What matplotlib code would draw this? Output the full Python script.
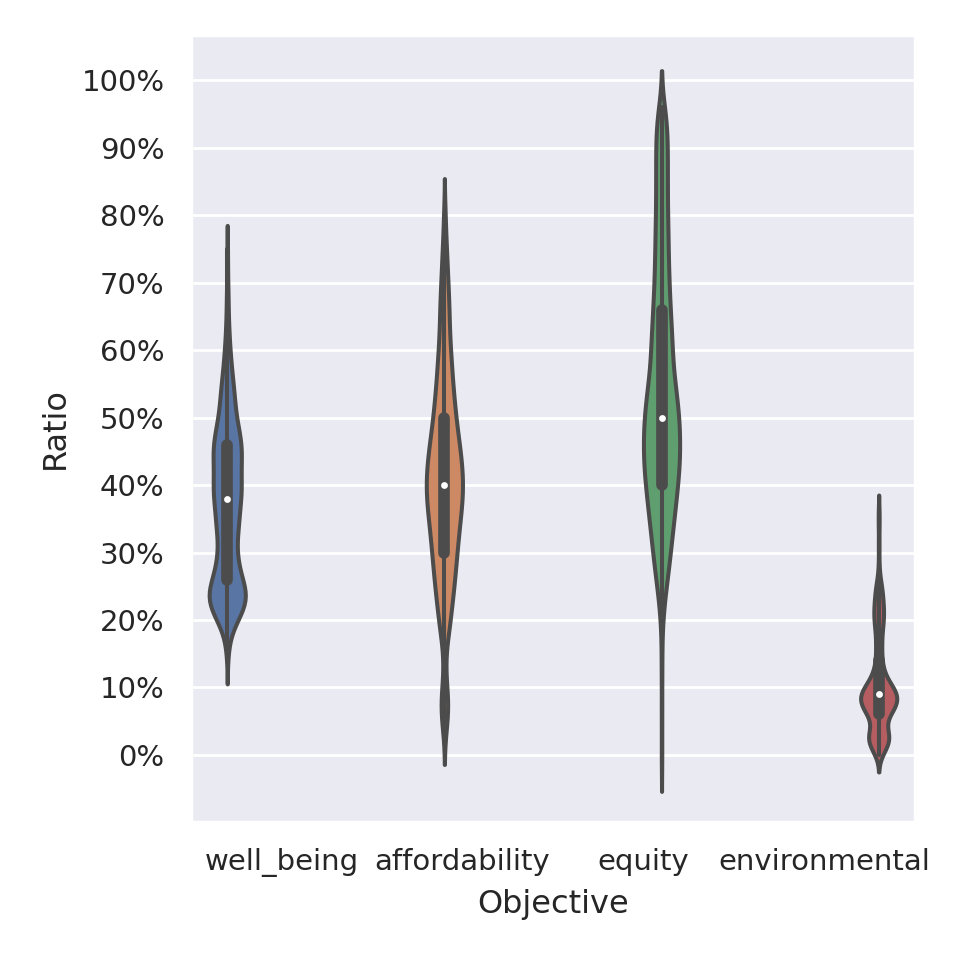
import numpy as np
import pandas as pd
import matplotlib
matplotlib.use("Agg")
import matplotlib.pyplot as plt
import seaborn as sns
from matplotlib.ticker import PercentFormatter

objectives = ["well_being", "affordability", "equity", "environmental"]

# binned samples: ratio level (%) and how many runs sit there
wb_levels = [14, 16, 18, 20, 22, 24, 26, 28, 30, 32, 34, 36, 38, 40, 42, 44, 46, 48,
             50, 52, 54, 56, 58, 60, 62, 64, 66, 68, 70, 72, 75]
wb_counts = [1, 3, 8, 22, 38, 42, 32, 24, 20, 20, 24, 25, 29, 30, 28, 30, 30, 25,
             19, 16, 14, 11, 8, 6, 4, 3, 2, 2, 1, 1, 1]

af_levels = [3, 4, 6, 8, 10, 12, 14, 16, 18, 20, 22, 24, 26, 28, 30, 32, 34, 36, 38,
             40, 42, 44, 46, 48, 50, 52, 54, 56, 58, 60, 62, 64, 66, 68, 70, 72, 74,
             76, 78, 80, 81]
af_counts = [1, 3, 6, 7, 4, 2, 2, 3, 7, 10, 12, 15, 17, 19, 21, 23, 25, 28, 30,
             31, 30, 28, 25, 22, 19, 17, 15, 13, 12, 10, 9, 8, 8, 7, 6, 5, 4,
             3, 2, 1, 1]

eq_levels = [0, 6, 12, 16, 20, 22, 24, 26, 28, 30, 32, 34, 36, 38, 40, 42, 44, 46,
             48, 50, 52, 54, 56, 58, 60, 62, 64, 66, 68, 70, 72, 74, 76, 78, 80, 82,
             84, 86, 88, 90, 92, 94, 96]
eq_counts = [1, 1, 1, 1, 2, 3, 5, 8, 10, 12, 14, 16, 18, 20, 22, 24, 25, 25,
             25, 24, 22, 20, 17, 15, 15, 14, 13, 12, 11, 10, 10, 9, 9, 9, 8, 8,
             8, 8, 8, 8, 8, 7, 5]

en_levels = [0, 1, 2, 3, 4, 5, 6, 7, 8, 9, 10, 11, 12, 13, 14, 15, 16, 17, 18, 19,
             20, 21, 22, 23, 24, 25, 26, 28, 31, 34, 36]
en_counts = [3, 8, 12, 12, 7, 6, 11, 17, 20, 20, 15, 9, 6, 4, 3, 3, 3, 3, 3, 4,
             5, 5, 5, 4, 4, 3, 2, 1, 1, 1, 1]

levels = [wb_levels, af_levels, eq_levels, en_levels]
counts = [wb_counts, af_counts, eq_counts, en_counts]

frames = []
for name, lv, ct in zip(objectives, levels, counts):
    vals = np.repeat(np.array(lv, dtype=float) / 100, ct)
    frames.append(pd.DataFrame({"Objective": name, "Ratio": vals}))
df = pd.concat(frames, ignore_index=True)

sns.set_theme(style="darkgrid")
plt.rcParams["font.family"] = ["DejaVu Sans"]

fig, ax = plt.subplots(figsize=(4.8, 4.8), dpi=200)
fig.subplots_adjust(left=0.199, right=0.953, bottom=0.14375, top=0.9635)

sns.violinplot(data=df, x="Objective", y="Ratio", hue="Objective",
               order=objectives, hue_order=objectives, dodge=True,
               palette="deep", saturation=0.75, density_norm="width",
               bw_adjust=0.5, inner="box", linewidth=1.45, legend=False,
               inner_kws=dict(box_width=4.2, whis_width=1.45, marker="o",
                              markersize=1.6),
               ax=ax)

ax.set_ylim(-0.0993, 1.0667)
ax.set_yticks(np.arange(0, 1.01, 0.1))
ax.yaxis.set_major_formatter(PercentFormatter(1.0, decimals=0))
ax.tick_params(labelsize=10.5)
ax.set_xlabel("Objective", fontsize=11.5)
ax.set_ylabel("Ratio", fontsize=11.5)

fig.savefig("out.png", dpi=200)
